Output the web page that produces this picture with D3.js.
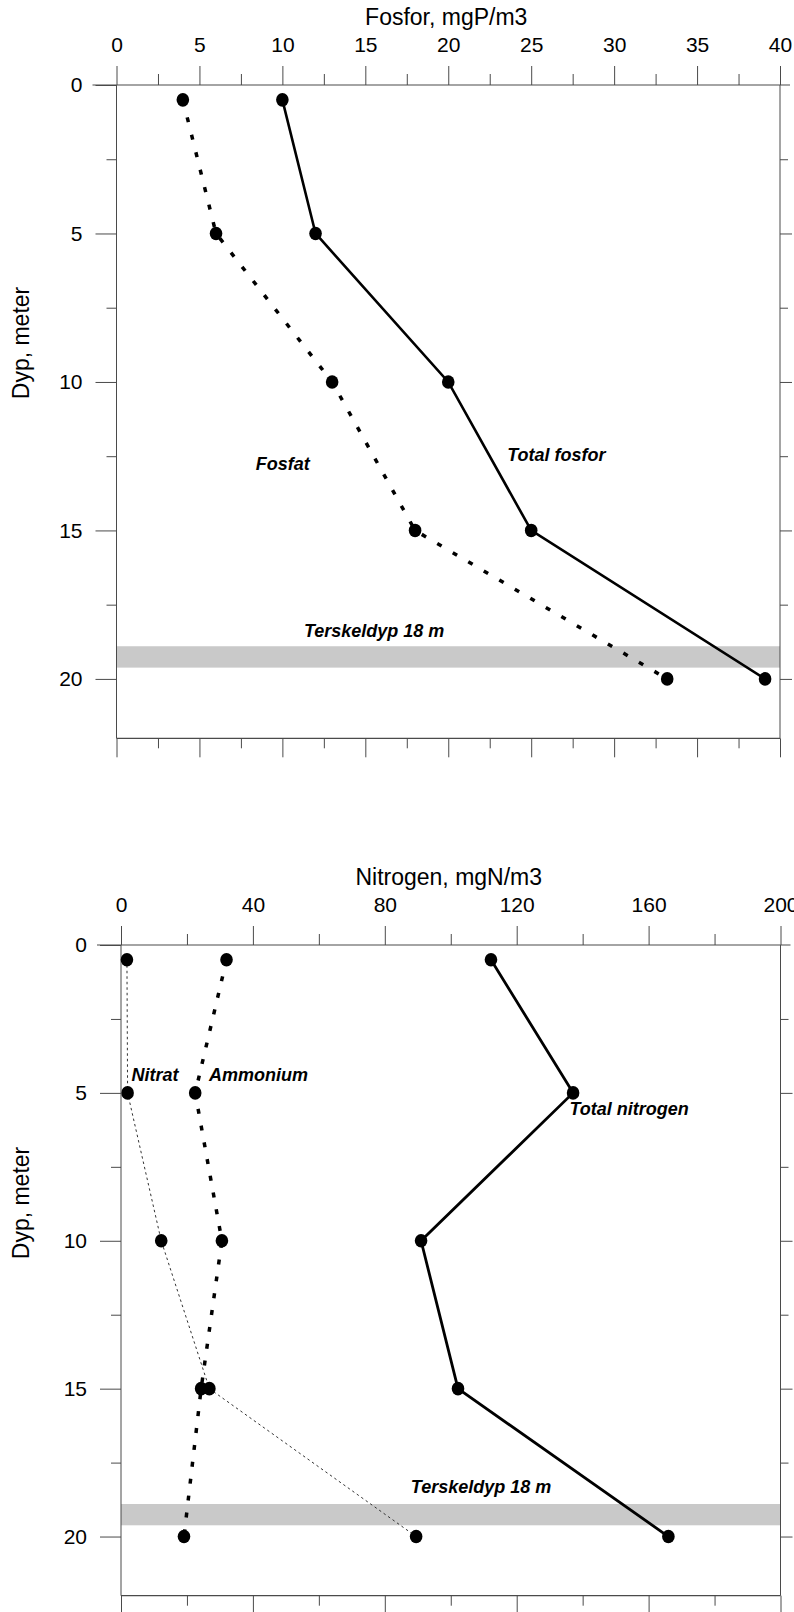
<!DOCTYPE html>
<html>
<head>
<meta charset="utf-8">
<script src="https://cdn.jsdelivr.net/npm/d3@7"></script>
<style>
  html, body { margin: 0; padding: 0; background: #fff; }
  svg { display: block; }
  text { font-family: "Liberation Sans", Arial, sans-serif; fill: #000; }
</style>
</head>
<body>
<svg id="chart" width="794" height="1612"></svg>
<script>
// ---- Data ----
const depths = [0.5, 5, 10, 15, 20];
const fosfat = [4, 6, 13, 18, 33.2];
const totalFosfor = [10, 12, 20, 25, 39.1];
const nitrat = [1.8, 2, 12.2, 26.8, 89.5];
const ammonium = [32, 22.5, 30.6, 24.3, 19.1];
const totalNitrogen = [112.2, 137.1, 91, 102.2, 166];
const fosforTicks = [0, 5, 10, 15, 20, 25, 30, 35, 40];
const nitrogenTicks = [0, 40, 80, 120, 160, 200];
const depthTicks = [0, 5, 10, 15, 20];
const thresholdBand = [18.9, 19.62];
const thresholdLabel = "Terskeldyp 18 m";

const svg = d3.select("#chart");

function panel(cfg) {
  const g = svg.append("g");
  const x = d3.scaleLinear().domain(cfg.xDomain).range(cfg.xRange);
  const y = d3.scaleLinear().domain([0, 22]).range(cfg.yRange);
  const [x0, x1] = cfg.xRange, [y0, y1] = cfg.yRange;
  const axisColor = "#4a4a4a";

  // threshold band
  g.append("rect")
    .attr("x", x0).attr("width", x1 - x0)
    .attr("y", y(thresholdBand[0])).attr("height", y(thresholdBand[1]) - y(thresholdBand[0]))
    .attr("fill", "#c9c9c9");

  // frame lines
  g.append("line").attr("x1", x0 - 24).attr("x2", x1 + 10).attr("y1", y0).attr("y2", y0)
    .attr("stroke", axisColor).attr("stroke-width", 1.2);
  g.append("line").attr("x1", x0).attr("x2", x1).attr("y1", y1).attr("y2", y1)
    .attr("stroke", axisColor).attr("stroke-width", 1.2);
  g.append("line").attr("x1", x0).attr("x2", x0).attr("y1", y0).attr("y2", y1)
    .attr("stroke", axisColor).attr("stroke-width", 1);
  g.append("line").attr("x1", x1).attr("x2", x1).attr("y1", y0).attr("y2", y1)
    .attr("stroke", axisColor).attr("stroke-width", 1);

  // top axis (major with labels)
  const topMajor = d3.axisTop(x).tickValues(cfg.xTicks).tickSize(19).tickPadding(14)
    .tickFormat(d3.format("d"));
  const topAx = g.append("g").attr("transform", `translate(0,${y0})`).call(topMajor);
  topAx.select(".domain").remove();
  topAx.selectAll("line").attr("stroke", axisColor);
  topAx.selectAll("text").attr("font-size", 21).style("font-family", "Liberation Sans, Arial, sans-serif");
  // top minor
  const minor = cfg.xTicks.slice(0, -1).map((v, i) => (v + cfg.xTicks[i + 1]) / 2);
  const topMinor = d3.axisTop(x).tickValues(minor).tickSize(11).tickFormat("");
  const tm = g.append("g").attr("transform", `translate(0,${y0})`).call(topMinor);
  tm.select(".domain").remove();
  tm.selectAll("line").attr("stroke", axisColor);

  // bottom ticks
  const botMajor = d3.axisBottom(x).tickValues(cfg.xTicks).tickSize(19).tickFormat("");
  const bm = g.append("g").attr("transform", `translate(0,${y1})`).call(botMajor);
  bm.select(".domain").remove();
  bm.selectAll("line").attr("stroke", axisColor);
  const botMinor = d3.axisBottom(x).tickValues(minor).tickSize(10).tickFormat("");
  const bmi = g.append("g").attr("transform", `translate(0,${y1})`).call(botMinor);
  bmi.select(".domain").remove();
  bmi.selectAll("line").attr("stroke", axisColor);

  // left axis
  const leftMajor = d3.axisLeft(y).tickValues(depthTicks).tickSize(21).tickPadding(13)
    .tickFormat(d3.format("d"));
  const la = g.append("g").attr("transform", `translate(${x0},0)`).call(leftMajor);
  la.select(".domain").remove();
  la.selectAll("line").attr("stroke", axisColor);
  la.selectAll("text").attr("font-size", 21).style("font-family", "Liberation Sans, Arial, sans-serif");
  const depthMinor = [2.5, 7.5, 12.5, 17.5];
  const lm = g.append("g").attr("transform", `translate(${x0},0)`)
    .call(d3.axisLeft(y).tickValues(depthMinor).tickSize(10).tickFormat(""));
  lm.select(".domain").remove();
  lm.selectAll("line").attr("stroke", axisColor);

  // right axis
  const ra = g.append("g").attr("transform", `translate(${x1},0)`)
    .call(d3.axisRight(y).tickValues(depthTicks.slice(1)).tickSize(12).tickFormat(""));
  ra.select(".domain").remove();
  ra.selectAll("line").attr("stroke", axisColor);
  const rm = g.append("g").attr("transform", `translate(${x1},0)`)
    .call(d3.axisRight(y).tickValues(depthMinor).tickSize(8).tickFormat(""));
  rm.select(".domain").remove();
  rm.selectAll("line").attr("stroke", axisColor);

  // titles
  g.append("text").attr("x", (x0 + x1) / 2 - 2).attr("y", y0 - 68)
    .attr("text-anchor", "middle").attr("dominant-baseline", "central")
    .attr("font-size", 23).text(cfg.title);
  g.append("text").attr("transform", `translate(21,${y0 + 258}) rotate(-90)`)
    .attr("text-anchor", "middle").attr("dominant-baseline", "central")
    .attr("font-size", 23).text("Dyp, meter");

  // series
  const line = d3.line().x(d => x(d[0])).y(d => y(d[1]));
  cfg.series.forEach(s => {
    const pts = s.values.map((v, i) => [v, depths[i]]);
    g.append("path").datum(pts).attr("d", line)
      .attr("fill", "none").attr("stroke", s.color || "#000")
      .attr("stroke-width", s.width)
      .attr("stroke-dasharray", s.dash || null)
      .attr("stroke-linecap", "butt");
    g.selectAll(null).data(pts).enter().append("ellipse")
      .attr("cx", d => x(d[0])).attr("cy", d => y(d[1]))
      .attr("rx", 6.3).attr("ry", 6.8).attr("fill", "#000");
  });

  // annotations
  cfg.labels.forEach(l => {
    g.append("text").attr("x", x(l.x)).attr("y", y(l.y))
      .attr("dominant-baseline", "central")
      .attr("font-size", 18).attr("font-weight", "bold").attr("font-style", "italic")
      .text(l.text);
  });
}

panel({
  title: "Fosfor, mgP/m3",
  xDomain: [0, 40], xRange: [116.5, 780], yRange: [85, 738.3],
  xTicks: fosforTicks,
  series: [
    { values: fosfat, width: 3.5, dash: "5,13" },
    { values: totalFosfor, width: 2.6 }
  ],
  labels: [
    { text: "Fosfat", x: 8.4, y: 12.76 },
    { text: "Total fosfor", x: 23.55, y: 12.46 },
    { text: thresholdLabel, x: 11.3, y: 18.38 }
  ]
});

panel({
  title: "Nitrogen, mgN/m3",
  xDomain: [0, 200], xRange: [121, 780.5], yRange: [945, 1595.7],
  xTicks: nitrogenTicks,
  series: [
    { values: nitrat, width: 1, dash: "2.5,3", color: "#333" },
    { values: ammonium, width: 3.5, dash: "5,12" },
    { values: totalNitrogen, width: 2.8 }
  ],
  labels: [
    { text: "Nitrat", x: 3.2, y: 4.4 },
    { text: "Ammonium", x: 26.7, y: 4.4 },
    { text: "Total nitrogen", x: 136, y: 5.55 },
    { text: thresholdLabel, x: 87.9, y: 18.32 }
  ]
});
</script>
</body>
</html>
